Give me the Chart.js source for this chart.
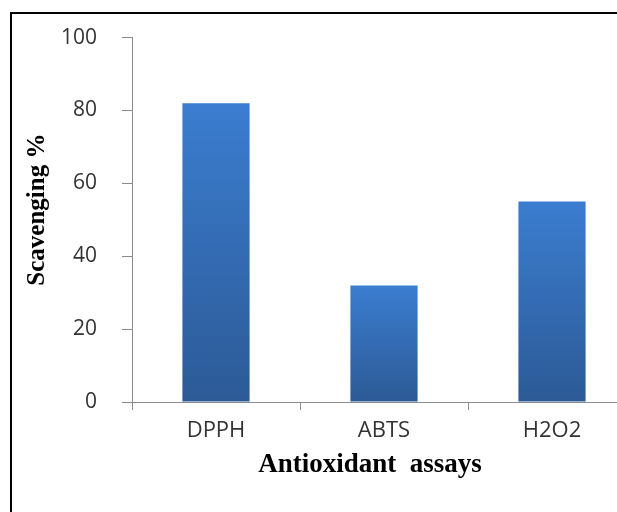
<!DOCTYPE html>
<html>
<head>
<meta charset="utf-8">
<script src="https://cdn.jsdelivr.net/npm/chart.js@4/dist/chart.umd.min.js"></script>
<style>
	html, body { margin: 0; padding: 0; background: #fff; overflow: hidden; width: 617px; height: 512px; }
	#frame { position: absolute; left: 10px; top: 12px; width: 700px; height: 600px; border-left: 2px solid #000; border-top: 2px solid #000; }
	#chart { position: absolute; left: 0; top: 0; }
</style>
</head>
<body>
<div id="frame"></div>
<canvas id="chart" width="636" height="512"></canvas>
<script>
"use strict";

const assays = ['DPPH', 'ABTS', 'H2O2'];
const scavenging = [82, 32, 55];
const yTicks = [0, 20, 40, 60, 80, 100];

const xTitle = 'Antioxidant  assays';
const yTitle = 'Scavenging %';

const barTop = '#3b7dd0';
const barBottom = '#2c5a96';
const axisGrey = '#8c8c8c';
const fontFamily = '"Open Sans", "Liberation Sans", sans-serif';

// axis titles drawn next to the plot area, as in the original figure
const axisTitles = {
	id: 'axisTitles',
	afterDraw(chart) {
		const ctx = chart.ctx;
		const area = chart.chartArea;
		ctx.save();
		ctx.fillStyle = '#000';
		ctx.font = 'bold 27px "Liberation Serif", "DejaVu Serif", serif';
		ctx.textAlign = 'center';
		ctx.textBaseline = 'middle';
		ctx.fillText(xTitle, area.left + 238, area.bottom + 63);

		ctx.font = 'bold 25px "Liberation Serif", "DejaVu Serif", serif';
		ctx.translate(38, area.top + 172);
		ctx.rotate(-Math.PI / 2);
		ctx.fillText(yTitle, 0, 0);
		ctx.restore();
	}
};

const ctx = document.getElementById('chart').getContext('2d');

const scavengingChart = new Chart(ctx, {
	type: 'bar',
	data: {
		labels: assays,
		datasets: [{
			label: 'Scavenging %',
			data: scavenging,
			backgroundColor: function (context) {
				const chart = context.chart;
				const area = chart.chartArea;
				if (!area || !chart.scales.y) {
					return barTop;
				}
				const top = chart.scales.y.getPixelForValue(context.raw);
				const grad = chart.ctx.createLinearGradient(0, top, 0, area.bottom);
				grad.addColorStop(0, barTop);
				grad.addColorStop(1, barBottom);
				return grad;
			},
			borderWidth: 0,
			categoryPercentage: 1,
			barPercentage: 0.4
		}]
	},
	options: {
		responsive: false,
		animation: false,
		layout: {
			padding: { top: 35, left: 0, right: 0, bottom: 0 }
		},
		plugins: {
			legend: { display: false },
			tooltip: { enabled: false }
		},
		scales: {
			x: {
				grid: {
					drawOnChartArea: false,
					drawTicks: true,
					tickLength: 8,
					color: axisGrey
				},
				border: { display: true, color: axisGrey, width: 1 },
				ticks: {
					color: '#333',
					font: { family: fontFamily, size: 22 },
					padding: 8,
					maxRotation: 0
				},
				afterFit: function (scale) {
					scale.height = 110;
				}
			},
			y: {
				min: 0,
				max: 100,
				afterBuildTicks: function (scale) {
					scale.ticks = yTicks.map(v => ({ value: v }));
				},
				grid: {
					drawOnChartArea: false,
					drawTicks: true,
					tickLength: 10,
					color: axisGrey
				},
				border: { display: true, color: axisGrey, width: 1 },
				ticks: {
					color: '#333',
					font: { family: fontFamily, size: 21 },
					padding: 25
				},
				afterFit: function (scale) {
					scale.width = 132;
				}
			}
		}
	},
	plugins: [axisTitles]
});
</script>
</body>
</html>
